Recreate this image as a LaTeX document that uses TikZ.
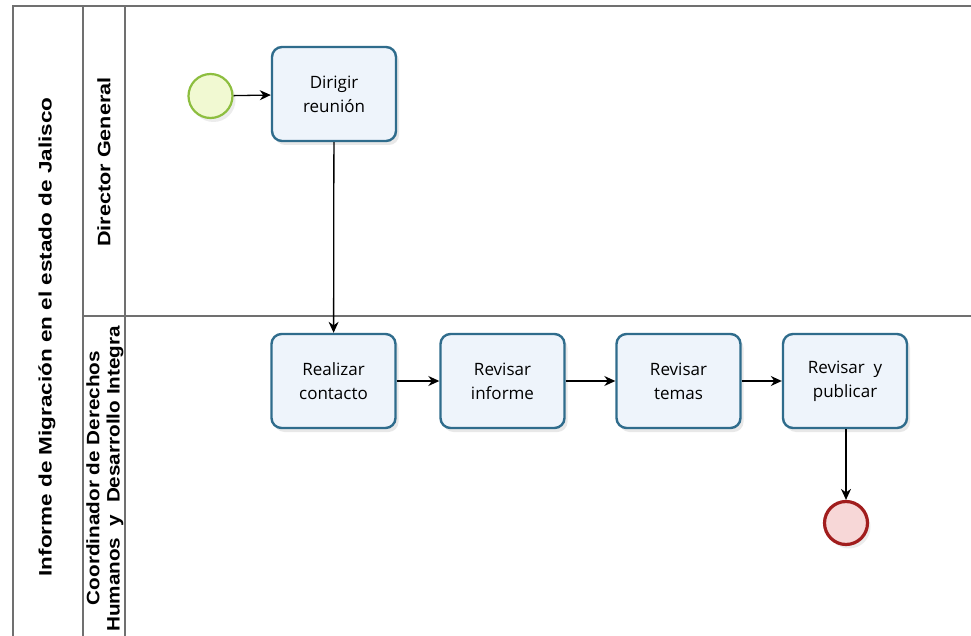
\documentclass[tikz,border=0pt]{standalone}
\usepackage{fontspec}
\setmainfont{Open Sans}
\newfontfamily\lanefont{Liberation Sans}
\usetikzlibrary{arrows.meta,shadows}
\definecolor{frame}{HTML}{707070}
\definecolor{taskline}{HTML}{2F6C8C}
\definecolor{taskfill}{HTML}{EEF4FB}
\definecolor{startline}{HTML}{8DBE3F}
\definecolor{startfill}{HTML}{F1F9D2}
\definecolor{endline}{HTML}{A11D1D}
\definecolor{endfill}{HTML}{F7D7D7}
\tikzset{
  x=1pt, y=-1pt,
  frameline/.style={draw=frame, line width=1.4pt},
  task/.style={draw=taskline, fill=taskfill, line width=2.4pt, rounded corners=10pt,
    minimum width=124pt, minimum height=94pt, align=center, font=\fontsize{17}{24}\selectfont,
    drop shadow={opacity=0.18, shadow xshift=3pt, shadow yshift=-4pt}},
  startev/.style={circle, draw=startline, fill=startfill, line width=2.2pt, minimum size=44pt,
    drop shadow={opacity=0.15, shadow xshift=3pt, shadow yshift=-4pt}},
  endev/.style={circle, draw=endline, fill=endfill, line width=3.2pt, minimum size=43pt,
    drop shadow={opacity=0.15, shadow xshift=3pt, shadow yshift=-4pt}},
  flow/.style={draw=black, line width=1.3pt, -{Stealth[length=11pt,width=10pt]}},
  lanelabel/.style={rotate=90, font=\lanefont\bfseries\fontsize{18}{22}\selectfont, align=center, inner sep=0pt}
}
\begin{document}
\begin{tikzpicture}
\useasboundingbox (0,0) rectangle (971,636);
\fill[white] (0,0) rectangle (971,636);
% frame
\draw[frameline] (971,6) -- (13,6) -- (13,636);
\draw[frameline] (83,6) -- (83,636);
\draw[frameline] (125,6) -- (125,636);
\draw[frameline] (83,316) -- (971,316);
% labels
\node[lanelabel] (pool) at (47,337) {\scalebox{1.25}[1]{Informe de Migración en el estado de Jalisco}};
\node[lanelabel] (lane1) at (104,162) {\scalebox{1.2}[1]{Director General}};
\begin{scope}
\clip (84,317) rectangle (124.5,636);
\node[lanelabel] (lane2a) at (93,478) {\scalebox{1.15}[1]{Coordinador de Derechos}};
\node[lanelabel, anchor=west] (lane2b) at (115,632) {\scalebox{1.15}[1]{Humanos\ \ y\ \ Desarrollo Integra}};
\end{scope}
% events and tasks
\node[startev] (start) at (210.5,96) {};
\node[task] (t1) at (334,94) {Dirigir\\reunión};
\node[task] (t2) at (333.5,381) {Realizar\\contacto};
\node[task] (t3) at (502.5,381) {Revisar\\informe};
\node[task] (t4) at (678.5,381) {Revisar\\temas};
\node[task] (t5) at (845,381) {Revisar\ \ y\\publicar};
\node[endev] (end) at (846,523) {};
% flows
\draw[flow] (start) -- (t1);
\draw[flow] (t1) -- (t2);
\draw[flow] (t2) -- (t3);
\draw[flow] (t3) -- (t4);
\draw[flow] (t4) -- (t5);
\draw[flow] (t5.south -| end) -- (end);
\end{tikzpicture}
\end{document}
